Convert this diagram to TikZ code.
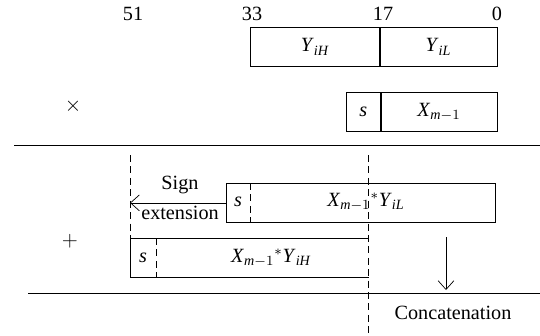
\documentclass[tikz,border=0pt]{standalone}
\usepackage{amsmath}
\usepackage{fontspec}
\setmainfont{Liberation Serif}
\usepackage{tikz}
\usetikzlibrary{arrows,arrows.meta}

\newcommand{\vr}[2]{\textit{#1}$_{\textit{#2}}$}

\tikzset{
  field/.style={draw, minimum height=0.78cm, inner sep=0pt, anchor=north west},
  cell/.style={minimum height=0.78cm, inner sep=0pt, anchor=north west},
  sep/.style={dash pattern=on 4pt off 2.5pt},
  txt/.style={inner sep=1pt, font=\fontsize{11.5}{13}\selectfont},
  arr/.style={-{Straight Barb[length=5pt,width=9pt]}}
}

\begin{document}
\begin{tikzpicture}[x=0.02cm,y=-0.02cm,txt]
	\useasboundingbox (0,0) rectangle (540,335);
	% bit positions
	\node (b51) at (133,14) {51};
	\node (b33) at (252,14) {33};
	\node (b17) at (383,14) {17};
	\node (b0) at (497,14) {0};
	% operands
	\node[field, minimum width=2.58cm] (yh) at (250,27) {\vr{Y}{iH}};
	\node[field, minimum width=2.34cm] (yl) at (yh.north east) {\vr{Y}{iL}};
	\node (times) at (73,106) {$\times$};
	\node[field, minimum width=0.68cm] (xs) at (346,92) {\textit{s}};
	\node[field, minimum width=2.32cm] (xm) at (xs.north east) {\textit{X}$_{\textit{m}-1}$};
	% partial products
	\coordinate (l1a) at (14,145);
	\coordinate (l1b) at (540,145);
	\draw (l1a) -- (l1b);
	\node[field, minimum width=5.38cm] (pl) at (226,183) {};
	\node (pltext) at (366,202) {\textit{X}$_{\textit{m}-1}{}^{*}$\vr{Y}{iL}};
	\node (pls) at (238,202) {\textit{s}};
	\coordinate (plsa) at (250,183);
	\coordinate (plsb) at (250,222);
	\draw[sep] (plsa) -- (plsb);
	\node[cell, minimum width=4.76cm] (ph) at (130,238) {};
	\draw (ph.north east) -- (ph.north west) -- (ph.south west) -- (ph.south east);
	\node (phs) at (143,258) {\textit{s}};
	\node (phtext) at (271,258) {\textit{X}$_{\textit{m}-1}{}^{*}$\vr{Y}{iH}};
	\coordinate (phsa) at (156,238);
	\coordinate (phsb) at (156,277);
	\draw[sep] (phsa) -- (phsb);
	\node (plus) at (70,241) {$+$};
	% sign extension
	\coordinate (dl) at (130,155);
	\draw[sep] (dl) -- (ph.north west);
	\coordinate (ext) at (pl.west -| dl);
	\draw[arr] (pl.west) -- (ext);
	\node (sign) at (180,185) {Sign};
	\node (extension) at (180,213) {extension};
	% concatenation
	\coordinate (dr1) at (368,155);
	\coordinate (dr2) at (368,335);
	\draw[sep] (dr1) -- (dr2);
	\coordinate (ca) at (446,237);
	\coordinate (cb) at (446,290);
	\draw[arr] (ca) -- (cb);
	\coordinate (l2a) at (28,293);
	\coordinate (l2b) at (540,293);
	\draw (l2a) -- (l2b);
	\node (concat) at (453,313) {Concatenation};
\end{tikzpicture}
\end{document}
